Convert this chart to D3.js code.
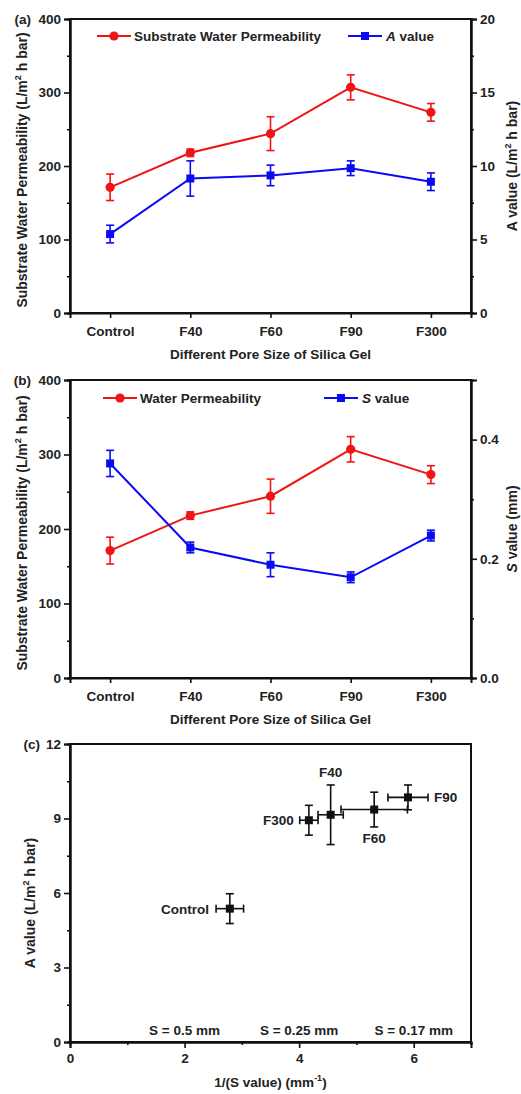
<!DOCTYPE html>
<html>
<head>
<meta charset="utf-8">
<script src="https://cdn.jsdelivr.net/npm/d3@7"></script>
<style>
  body { margin: 0; background: #fff; }
  svg text { font-family: "Liberation Sans", Arial, sans-serif; font-weight: bold; fill: #222; }
</style>
</head>
<body>
<svg id="chart" width="521" height="1094"></svg>
<script>
// data
const categories = ['Control', 'F40', 'F60', 'F90', 'F300'];
const permeability = [171, 218, 244, 307, 273];
const permeabilityErr = [18, 5, 23, 17, 12];
const aValue = [5.37, 9.15, 9.36, 9.85, 8.93];
const aValueErr = [0.6, 1.2, 0.7, 0.5, 0.6];
const sValue = [0.36, 0.219, 0.19, 0.169, 0.239];
const sValueErr = [0.022, 0.009, 0.02, 0.009, 0.009];
const invS = [2.79, 4.55, 5.31, 5.9, 4.17];
const invSErr = [0.24, 0.22, 0.58, 0.35, 0.16];
const permTicks = [0, 100, 200, 300, 400];
const aTicks = [0, 5, 10, 15, 20];
const sTicks = [0, 0.2, 0.4];
const cYTicks = [0, 3, 6, 9, 12];
const cXTicks = [0, 2, 4, 6];
const sNotes = [{ x: 2, label: 'S = 0.5 mm' }, { x: 4, label: 'S = 0.25 mm' }, { x: 6, label: 'S = 0.17 mm' }];

const RED = '#f01414';
const BLUE = '#0a0af5';
const FS = 13.5;

const svg = d3.select('#chart');

function styleAxis(g)
{
  g.select('.domain').attr('stroke', '#111').attr('stroke-width', 2);
  g.selectAll('.tick line').attr('stroke', '#111').attr('stroke-width', 1.6);
  g.selectAll('.tick text').attr('font-size', FS).attr('fill', '#222')
    .attr('font-family', '"Liberation Sans", Arial, sans-serif').attr('font-weight', 'bold');
}

function frame(left, top, right, bottom)
{
  svg.append('rect')
    .attr('x', left).attr('y', top)
    .attr('width', right - left).attr('height', bottom - top)
    .attr('fill', 'none').attr('stroke', '#111').attr('stroke-width', 2);
}

// rotated title with superscript 2
function yTitle(x, y, anchor, parts)
{
  const t = svg.append('text')
    .attr('transform', `translate(${x},${y}) rotate(-90)`)
    .attr('text-anchor', anchor)
    .attr('font-size', 14);
  parts.forEach(p =>
  {
    const s = t.append('tspan').text(p.t);
    if (p.sup) s.attr('font-size', 9).attr('dy', -6);
    if (p.down) s.attr('dy', 6);
    if (p.it) s.attr('font-style', 'italic');
  });
}

function errorBars(g, xs, lo, hi, color, cap)
{
  g.selectAll(null).data(xs).enter().append('line')
    .attr('x1', d => d).attr('x2', d => d)
    .attr('y1', (d, i) => lo[i]).attr('y2', (d, i) => hi[i])
    .attr('stroke', color).attr('stroke-width', 1.6);
  [lo, hi].forEach(arr =>
  {
    g.selectAll(null).data(xs).enter().append('line')
      .attr('x1', d => d - cap).attr('x2', d => d + cap)
      .attr('y1', (d, i) => arr[i]).attr('y2', (d, i) => arr[i])
      .attr('stroke', color).attr('stroke-width', 1.6);
  });
}

function categoryPanel(opt)
{
  const left = 70, right = 471;
  const { top, bottom } = opt;
  const x = d3.scalePoint().domain(categories).range([left, right]).padding(0.5);
  const yL = d3.scaleLinear().domain([0, 400]).range([bottom, top]);
  const yR = d3.scaleLinear().domain(opt.rDomain).range([bottom, top]);

  frame(left, top, right, bottom);

  svg.append('g').attr('transform', `translate(${left},0)`)
    .call(d3.axisLeft(yL).tickValues(permTicks).tickSize(6).tickPadding(3)).call(styleAxis);
  svg.append('g').attr('transform', `translate(${left},0)`)
    .call(d3.axisLeft(yL).tickValues([50, 150, 250, 350]).tickSize(3).tickFormat('')).call(styleAxis);
  svg.append('g').attr('transform', `translate(${right},0)`)
    .call(d3.axisRight(yR).tickValues(opt.rTicks).tickSize(6).tickPadding(3).tickFormat(opt.rFormat)).call(styleAxis);
  svg.append('g').attr('transform', `translate(${right},0)`)
    .call(d3.axisRight(yR).tickValues(opt.rMinor).tickSize(3).tickFormat('')).call(styleAxis);
  svg.append('g').attr('transform', `translate(0,${bottom})`)
    .call(d3.axisBottom(x).tickSize(5).tickPadding(8)).call(styleAxis);

  svg.append('text').attr('x', (left + right) / 2).attr('y', bottom + 46)
    .attr('text-anchor', 'middle').attr('font-size', FS).text('Different Pore Size of Silica Gel');
  svg.append('text').attr('x', 31).attr('y', top + 5)
    .attr('text-anchor', 'end').attr('font-size', FS).text(opt.tag);

  const g = svg.append('g');
  const xs = categories.map(c => x(c));

  // red series (left axis)
  g.append('path').datum(permeability)
    .attr('fill', 'none').attr('stroke', RED).attr('stroke-width', 2)
    .attr('d', d3.line().x((d, i) => xs[i]).y(d => yL(d)));
  errorBars(g, xs, permeability.map((d, i) => yL(d - permeabilityErr[i])),
    permeability.map((d, i) => yL(d + permeabilityErr[i])), RED, 4);
  g.selectAll(null).data(permeability).enter().append('circle')
    .attr('cx', (d, i) => xs[i]).attr('cy', d => yL(d)).attr('r', 4.6).attr('fill', RED);

  // blue series (right axis)
  const vals = opt.rValues, errs = opt.rErr;
  g.append('path').datum(vals)
    .attr('fill', 'none').attr('stroke', BLUE).attr('stroke-width', 2)
    .attr('d', d3.line().x((d, i) => xs[i]).y(d => yR(d)));
  errorBars(g, xs, vals.map((d, i) => yR(d - errs[i])), vals.map((d, i) => yR(d + errs[i])), BLUE, 4);
  g.selectAll(null).data(vals).enter().append('rect')
    .attr('x', (d, i) => xs[i] - 4).attr('y', d => yR(d) - 4)
    .attr('width', 8).attr('height', 8).attr('fill', BLUE);

  // legend
  const ly = opt.legendY;
  const lg = svg.append('g');
  lg.append('line').attr('x1', opt.leg1).attr('x2', opt.leg1 + 34).attr('y1', ly).attr('y2', ly)
    .attr('stroke', RED).attr('stroke-width', 2);
  lg.append('circle').attr('cx', opt.leg1 + 17).attr('cy', ly).attr('r', 4.6).attr('fill', RED);
  lg.append('text').attr('x', opt.leg1 + 37).attr('y', ly + 5).attr('font-size', FS).text(opt.name1);
  lg.append('line').attr('x1', opt.leg2).attr('x2', opt.leg2 + 34).attr('y1', ly).attr('y2', ly)
    .attr('stroke', BLUE).attr('stroke-width', 2);
  lg.append('rect').attr('x', opt.leg2 + 13).attr('y', ly - 4).attr('width', 8).attr('height', 8).attr('fill', BLUE);
  const t2 = lg.append('text').attr('x', opt.leg2 + 38).attr('y', ly + 5).attr('font-size', FS);
  t2.append('tspan').attr('font-style', 'italic').text(opt.name2[0]);
  t2.append('tspan').text(opt.name2[1]);

  yTitle(27, (top + bottom) / 2 + 4, 'middle', [
    { t: 'Substrate Water Permeability (L/m' }, { t: '2', sup: true }, { t: ' h bar)', down: true }
  ]);
  yTitle(517, (top + bottom) / 2, 'middle', opt.rTitle);
}

categoryPanel({
  top: 19, bottom: 313, tag: '(a)',
  rDomain: [0, 20], rTicks: aTicks, rMinor: [2.5, 7.5, 12.5, 17.5], rFormat: d3.format('d'),
  rValues: aValue, rErr: aValueErr,
  legendY: 36, leg1: 97, leg2: 348,
  name1: 'Substrate Water Permeability', name2: ['A', ' value'],
  rTitle: [{ t: 'A value (L/m' }, { t: '2', sup: true }, { t: ' h bar)', down: true }]
});

categoryPanel({
  top: 380, bottom: 678, tag: '(b)',
  rDomain: [0, 0.5], rTicks: sTicks, rMinor: [0.1, 0.3], rFormat: d3.format('.1f'),
  rValues: sValue, rErr: sValueErr,
  legendY: 398, leg1: 103, leg2: 324,
  name1: 'Water Permeability', name2: ['S', ' value'],
  rTitle: [{ t: 'S', it: true }, { t: ' value  (mm)' }]
});

// panel (c): A value vs 1/S
(function ()
{
  const left = 70, right = 471, top = 744, bottom = 1042;
  const x = d3.scaleLinear().domain([0, 7]).range([left, right]);
  const y = d3.scaleLinear().domain([0, 12]).range([bottom, top]);

  frame(left, top, right, bottom);
  svg.append('g').attr('transform', `translate(${left},0)`)
    .call(d3.axisLeft(y).tickValues(cYTicks).tickSize(6).tickPadding(3)).call(styleAxis);
  svg.append('g').attr('transform', `translate(${left},0)`)
    .call(d3.axisLeft(y).tickValues([1.5, 4.5, 7.5, 10.5]).tickSize(3).tickFormat('')).call(styleAxis);
  svg.append('g').attr('transform', `translate(0,${bottom})`)
    .call(d3.axisBottom(x).tickValues(cXTicks).tickSize(6).tickPadding(5).tickFormat(d3.format('d'))).call(styleAxis);
  svg.append('g').attr('transform', `translate(0,${bottom})`)
    .call(d3.axisBottom(x).tickValues([1, 3, 5, 7]).tickSize(3).tickFormat('')).call(styleAxis);

  svg.append('text').attr('x', 40).attr('y', top + 5)
    .attr('text-anchor', 'end').attr('font-size', FS).text('(c)');

  const xt = svg.append('text').attr('x', (left + right) / 2).attr('y', 1087)
    .attr('text-anchor', 'middle').attr('font-size', FS);
  xt.append('tspan').text('1/(S value) (mm');
  xt.append('tspan').attr('font-size', 9).attr('dy', -6).text('-1');
  xt.append('tspan').attr('dy', 6).text(')');

  yTitle(35, (top + bottom) / 2 + 10, 'middle', [
    { t: 'A value (L/m' }, { t: '2', sup: true }, { t: ' h bar)', down: true }
  ]);

  svg.selectAll(null).data(sNotes).enter().append('text')
    .attr('x', d => x(d.x)).attr('y', 1035).attr('text-anchor', 'middle')
    .attr('font-size', FS).text(d => d.label);

  const g = svg.append('g');
  const xs = invS.map(d => x(d));
  const ys = aValue.map(d => y(d));
  errorBars(g, xs, aValue.map((d, i) => y(d - aValueErr[i])), aValue.map((d, i) => y(d + aValueErr[i])), '#111', 4);
  // horizontal error bars
  g.selectAll(null).data(invS).enter().append('line')
    .attr('x1', (d, i) => x(d - invSErr[i])).attr('x2', (d, i) => x(d + invSErr[i]))
    .attr('y1', (d, i) => ys[i]).attr('y2', (d, i) => ys[i])
    .attr('stroke', '#111').attr('stroke-width', 1.6);
  [-1, 1].forEach(sgn =>
  {
    g.selectAll(null).data(invS).enter().append('line')
      .attr('x1', (d, i) => x(d + sgn * invSErr[i])).attr('x2', (d, i) => x(d + sgn * invSErr[i]))
      .attr('y1', (d, i) => ys[i] - 4).attr('y2', (d, i) => ys[i] + 4)
      .attr('stroke', '#111').attr('stroke-width', 1.6);
  });
  g.selectAll(null).data(invS).enter().append('rect')
    .attr('x', d => x(d) - 4).attr('y', (d, i) => ys[i] - 4)
    .attr('width', 8).attr('height', 8).attr('fill', '#111');

  // point labels: Control, F40, F60, F90, F300
  const place = [
    { a: 'end', dx: i => x(invS[i] - invSErr[i]) - 7, dy: i => ys[i] + 5 },
    { a: 'middle', dx: i => xs[i], dy: i => y(aValue[i] + aValueErr[i]) - 8 },
    { a: 'middle', dx: i => xs[i], dy: i => y(aValue[i] - aValueErr[i]) + 16 },
    { a: 'start', dx: i => x(invS[i] + invSErr[i]) + 6, dy: i => ys[i] + 5 },
    { a: 'end', dx: i => x(invS[i] - invSErr[i]) - 6, dy: i => ys[i] + 5 }
  ];
  g.selectAll(null).data(categories).enter().append('text')
    .attr('x', (d, i) => place[i].dx(i)).attr('y', (d, i) => place[i].dy(i))
    .attr('text-anchor', (d, i) => place[i].a).attr('font-size', FS).text(d => d);
})();
</script>
</body>
</html>
